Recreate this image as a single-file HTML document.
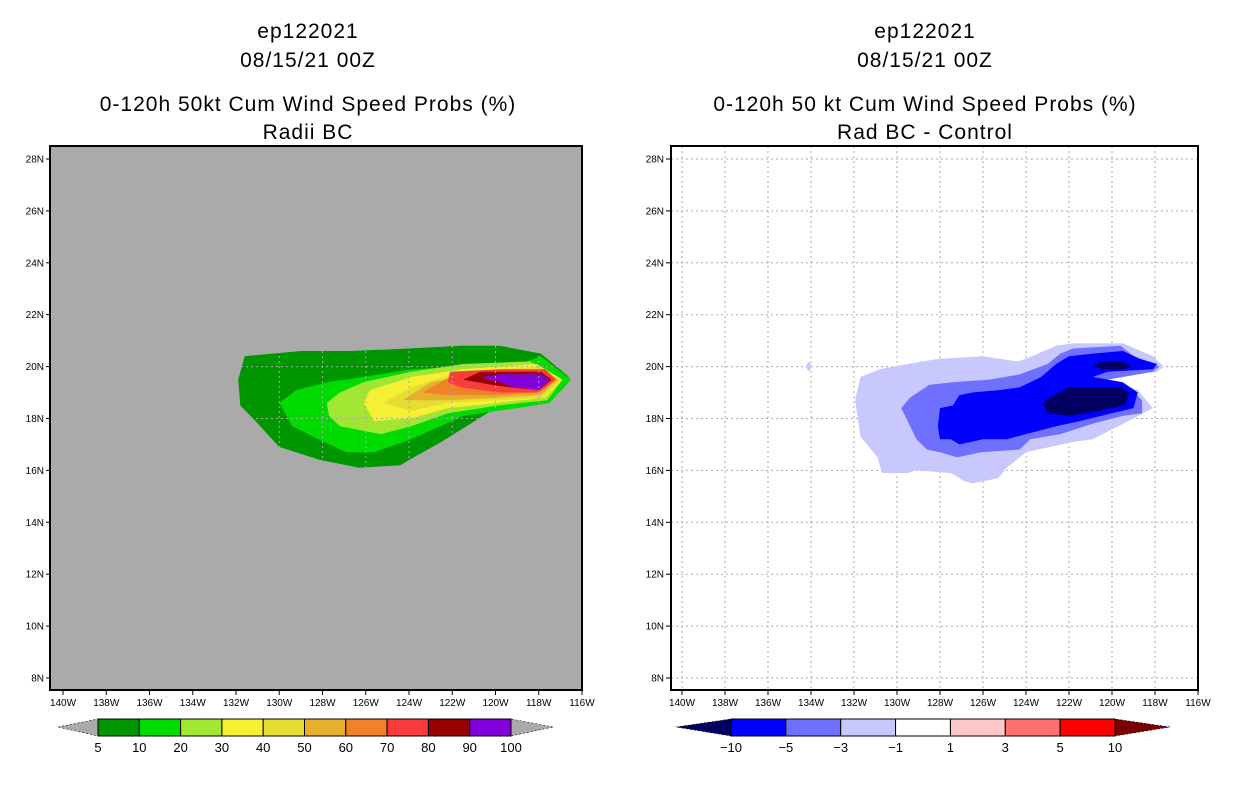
<!DOCTYPE html>
<html><head><meta charset="utf-8"><style>
body{margin:0;background:#fff;width:1236px;height:800px;overflow:hidden}
svg{display:block;font-family:"Liberation Sans",sans-serif}
</style></head><body>
<svg id="s" width="1236" height="800"></svg>
<script>
const latTicks=[28,26,24,22,20,18,16,14,12,10,8];
const lonTicks=[140,138,136,134,132,130,128,126,124,122,120,118,116];
const leftLevels=[5,10,20,30,40,50,60,70,80,90];
const leftColors=['#009600','#00dc00','#a0e632','#f5f032','#e6dc32','#e6af2d','#f08228','#fa3c3c','#960000','#8200dc'];
const leftLabels=['5','10','20','30','40','50','60','70','80','90','100'];
const rightLabels=['−10','−5','−3','−1','1','3','5','10'];
const rightColors=['#0000ff','#7070ff','#c8c8ff','#ffffff','#ffc8c8','#ff7070','#ff0000'];
// contour polygons [lonW, latN]
const L5=[[131.6,20.4],[129.0,20.6],[126.7,20.6],[123.9,20.7],[121.6,20.8],[119.8,20.8],[117.9,20.5],[116.6,19.6],[117.7,18.7],[120.2,18.3],[122.5,17.1],[124.0,16.4],[124.4,16.2],[126.3,16.1],[128.1,16.4],[130.0,16.9],[131.1,17.9],[131.8,18.5],[131.9,19.5]];
const L10=[[130.0,18.6],[129.2,19.1],[127.8,19.4],[126.1,19.6],[123.9,19.9],[121.5,20.0],[119.2,20.0],[117.9,20.4],[116.5,19.5],[117.5,18.6],[119.0,18.4],[121.5,18.1],[123.9,17.2],[125.6,16.7],[126.9,16.7],[128.2,17.2],[129.4,17.7]];
const L20=[[127.8,18.6],[127.2,19.0],[126.1,19.4],[123.9,19.8],[121.5,20.1],[118.4,20.2],[116.9,19.5],[117.6,18.7],[119.9,18.5],[122.2,18.2],[123.9,17.7],[125.3,17.4],[127.2,17.7],[127.7,18.1]];
const L30=[[126.1,18.6],[125.8,19.1],[123.9,19.6],[121.5,19.9],[118.1,20.1],[116.9,19.5],[117.7,18.8],[119.9,18.6],[122.2,18.4],[123.9,18.0],[125.6,17.9]];
const L40=[[125.2,18.6],[123.9,19.2],[122.4,19.6],[119.9,19.9],[117.9,20.0],[117.0,19.5],[117.8,18.8],[119.9,18.7],[122.2,18.6],[123.9,18.3]];
const L50=[[124.3,18.7],[123.0,19.4],[119.9,19.8],[117.9,19.9],[117.1,19.5],[117.9,18.9],[119.9,18.8],[122.2,18.7]];
const L60=[[123.4,19.0],[122.1,19.6],[119.8,19.8],[117.7,19.8],[117.2,19.5],[118.0,19.0],[119.9,18.9],[122.1,18.9]];
const L70=[[122.2,19.4],[122.1,19.8],[119.8,19.9],[117.7,19.9],[117.2,19.5],[118.0,19.0],[119.8,19.0],[121.6,19.2]];
const L80=[[121.5,19.5],[120.7,19.8],[117.9,19.8],[117.4,19.5],[118.0,19.1],[119.3,19.2],[120.2,19.3]];
const L90=[[120.7,19.6],[119.8,19.7],[117.9,19.7],[117.5,19.5],[118.0,19.1],[119.1,19.2],[119.8,19.4]];
const leftPolys=[L5,L10,L20,L30,L40,L50,L60,L70,L80,L90];
const R1=[[131.95,18.7],[131.7,19.6],[130.8,19.9],[130.2,20.0],[128.8,20.2],[128.0,20.3],[126.0,20.4],[124.4,20.2],[124.0,20.3],[122.6,20.8],[121.8,20.9],[119.5,20.9],[118.1,20.4],[117.6,20.0],[117.9,19.8],[120.6,19.6],[118.8,19.1],[118.1,18.4],[119.0,18.0],[120.9,17.2],[121.8,17.1],[124.0,16.7],[124.9,16.1],[125.3,15.7],[126.5,15.5],[126.9,15.6],[127.5,15.9],[129.1,16.0],[129.5,15.9],[130.7,15.9],[130.9,16.5],[131.7,17.3]];
const R3=[[129.8,18.4],[129.4,18.8],[128.5,19.3],[127.4,19.4],[125.7,19.5],[124.3,19.7],[123.0,20.1],[122.4,20.5],[121.8,20.7],[119.6,20.8],[119.0,20.4],[118.1,20.1],[117.8,20.0],[118.1,19.8],[120.2,19.5],[119.2,19.2],[118.6,18.7],[118.6,18.2],[119.5,18.1],[120.9,17.8],[122.4,17.4],[123.8,17.2],[124.3,16.8],[126.1,16.7],[127.2,16.5],[128.0,16.7],[128.6,16.8],[129.1,17.2]];
const R5=[[128.1,17.7],[128.0,18.4],[127.4,18.5],[127.1,18.9],[126.5,19.0],[125.2,19.1],[124.3,19.2],[123.3,19.6],[122.6,20.1],[122.0,20.4],[120.9,20.5],[119.5,20.6],[118.7,20.3],[117.9,20.1],[118.1,19.9],[120.2,19.8],[120.9,19.6],[119.5,19.4],[118.8,19.0],[119.0,18.4],[120.0,18.2],[121.5,17.9],[122.6,17.7],[124.0,17.4],[124.9,17.2],[126.0,17.2],[127.1,17.0],[127.5,17.2],[128.0,17.2]];
const R10a=[[123.2,18.6],[122.9,18.8],[122.0,19.2],[119.6,19.2],[119.2,19.0],[119.4,18.5],[120.6,18.3],[122.0,18.1],[123.0,18.2]];
const R10b=[[120.9,20.0],[120.4,20.2],[119.5,20.2],[119.1,20.0],[119.5,19.9],[120.4,19.9]];
const R1dot=[[134.25,20.0],[134.1,20.2],[133.95,20.0],[134.1,19.8]];
const rightPolys=[[R1,'#c8c8ff'],[R1dot,'#c8c8ff'],[R3,'#7070ff'],[R5,'#0000ff'],[R10a,'#000060'],[R10b,'#000060']];

const S=document.getElementById('s');const NS='http://www.w3.org/2000/svg';
function el(t,a,p){const e=document.createElementNS(NS,t);for(const k in a)e.setAttribute(k,a[k]);(p||S).appendChild(e);return e;}
const Y=lat=>159+(28-lat)*25.95;
function panel(x0,x1,x140,pxd,bg,name){
  const X=lon=>x140+(140-lon)*pxd;
  const g=el('g',{});
  el('rect',{x:x0,y:146,width:x1-x0,height:544,fill:bg},g);
  return {g,X};
}
function title(cx,lines){const ys=[38,67,111,139];lines.forEach((t,i)=>{const e=el('text',{x:cx,y:ys[i],'text-anchor':'middle','font-size':21,fill:'#000','letter-spacing':'1'});e.textContent=t;});}
function gridAxes(P,x0,x1,col,dash){
  latTicks.forEach(l=>{const y=Y(l);
    const gl=el('line',{x1:x0,x2:x1,y1:y,y2:y,stroke:col,'stroke-dasharray':dash},P.g);
    el('line',{x1:x0-5,x2:x0,y1:y,y2:y,stroke:'#000'},P.g);
    const t=el('text',{x:x0-7,y:y+3.5,'text-anchor':'end','font-size':10},P.g);t.textContent=l+'N';});
  lonTicks.forEach(l=>{const x=P.X(l);
    const gl=el('line',{x1:x,x2:x,y1:146,y2:690,stroke:col,'stroke-dasharray':dash},P.g);
    el('line',{x1:x,x2:x,y1:690,y2:695,stroke:'#000'},P.g);
    const t=el('text',{x:x,y:706,'text-anchor':'middle','font-size':10},P.g);t.textContent=l+'W';});
}
function poly(P,pts,fill,name){const p=el('polygon',{points:pts.map(q=>P.X(q[0]).toFixed(1)+','+Y(q[1]).toFixed(1)).join(' '),fill:fill},P.g);}

// left
title(308,['ep122021','08/15/21 00Z','0-120h 50kt Cum Wind Speed Probs (%)','Radii BC']);
const PL=panel(51,582,63,21.625,'#aaaaaa','left-map');
leftPolys.forEach((pp,i)=>poly(PL,pp,leftColors[i],'contour-'+leftLevels[i]));
gridAxes(PL,51,582,'#aaaaaa','2,3');
el('rect',{x:50,y:146,width:532,height:544,fill:'none',stroke:'#000','stroke-width':2});
// right
title(925,['ep122021','08/15/21 00Z','0-120h 50 kt Cum Wind Speed Probs (%)','Rad BC - Control']);
const PR=panel(671,1198,682,21.5,'#fff','right-map');
gridAxes(PR,671,1198,'#aaa','2,3');
rightPolys.forEach((p,i)=>poly(PR,p[0],p[1],'diff-contour-'+i));
el('rect',{x:671,y:146,width:527,height:544,fill:'none',stroke:'#000','stroke-width':2});

// colorbars
function cbar(xs,xe,tL,tR,cols,labels,lc,rc,name){
  const g=el('g',{});
  const w=(xe-xs)/cols.length;
  el('polygon',{points:`${tL},727 ${xs},719 ${xs},736`,fill:lc,stroke:'#000','stroke-dasharray':'2,2','stroke-width':0.6},g);
  el('polygon',{points:`${tR},727 ${xe},719 ${xe},736`,fill:rc,stroke:'#000','stroke-dasharray':'2,2','stroke-width':0.6},g);
  cols.forEach((c,i)=>{const r=el('rect',{x:xs+i*w,y:719,width:w,height:17,fill:c,stroke:'#000','stroke-width':1},g);});
  labels.forEach((l,i)=>{const t=el('text',{x:xs+i*w,y:752,'text-anchor':'middle','font-size':13},g);t.textContent=l;});
}
cbar(98,511,58,553,leftColors,leftLabels,'#aaaaaa','#aaaaaa','left-colorbar');
cbar(731,1115,676,1170,rightColors,rightLabels,'#000060','#7a0000','right-colorbar');
</script>
</body></html>
